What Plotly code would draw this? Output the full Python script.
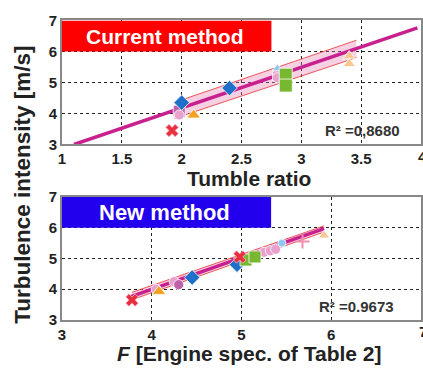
import plotly.graph_objects as go

# ---------------- data ----------------
# Top panel: Tumble ratio vs turbulence intensity (current method)
top_fit_x = [1.1, 3.97]
top_fit_y = [3.0, 6.76]
top_band_x = [1.94, 3.46]
top_band_hi = [4.36, 6.36]
top_band_lo = [3.84, 5.80]

top_x_cross = [1.92];        top_y_cross = [3.45]
top_x_purple = [1.98];       top_y_purple = [4.07]
top_x_pink = [1.98, 2.8, 2.8];  top_y_pink = [3.95, 5.27, 5.15]
top_x_blue = [2.0, 2.4];     top_y_blue = [4.35, 4.82]
top_x_orange = [2.1];        top_y_orange = [3.95]
top_x_lblue = [2.8];         top_y_lblue = [5.45]
top_x_green = [2.87, 2.87];  top_y_green = [5.25, 4.9]
top_x_lorange = [3.4, 3.4];  top_y_lorange = [5.85, 5.6]

# Bottom panel: F vs turbulence intensity (new method)
bot_fit_x = [3.76, 5.92]
bot_fit_y = [3.75, 5.97]
bot_band_x = [3.78, 5.92]
bot_band_hi = [3.9, 6.06]
bot_band_lo = [3.66, 5.86]

bot_x_cross = [3.78, 4.98];  bot_y_cross = [3.65, 5.05]
bot_x_pink = [4.05, 4.25, 5.25, 5.32, 5.38];  bot_y_pink = [4.0, 4.25, 5.2, 5.25, 5.3]
bot_x_purple = [4.3];        bot_y_purple = [4.15]
bot_x_orange = [4.08];       bot_y_orange = [3.93]
bot_x_blue = [4.45, 4.95];   bot_y_blue = [4.38, 4.8]
bot_x_green = [5.05, 5.15];  bot_y_green = [4.95, 5.05]
bot_x_lblue = [5.45];        bot_y_lblue = [5.5]
bot_x_plus = [5.68];         bot_y_plus = [5.55]
bot_x_lorange = [5.92];      bot_y_lorange = [5.75]

top_xticks = [1, 1.5, 2, 2.5, 3, 3.5, 4]
bot_xticks = [3, 4, 5, 6, 7]
yticks = [3, 4, 5, 6, 7]

# ---------------- figure ----------------
W, H = 423, 370
L = 62
fig = go.Figure()

LINE = "#c8208e"
BANDLINE = "rgba(230,60,60,0.85)"
BANDFILL = "rgba(230,120,175,0.35)"

def band(xa, ya, bx, hi, lo):
    fig.add_trace(go.Scatter(x=bx, y=lo, mode="lines", line=dict(color=BANDLINE, width=1),
                             xaxis=xa, yaxis=ya, showlegend=False, hoverinfo="skip"))
    fig.add_trace(go.Scatter(x=bx, y=hi, mode="lines", line=dict(color=BANDLINE, width=1),
                             fill="tonexty", fillcolor=BANDFILL,
                             xaxis=xa, yaxis=ya, showlegend=False, hoverinfo="skip"))

def fit(xa, ya, fx, fy):
    fig.add_trace(go.Scatter(x=fx, y=fy, mode="lines", line=dict(color=LINE, width=3.5),
                             xaxis=xa, yaxis=ya, showlegend=False, hoverinfo="skip"))

def pts(xa, ya, x, y, symbol, color, size, lc="rgba(255,255,255,0.8)", lw=1):
    fig.add_trace(go.Scatter(x=x, y=y, mode="markers", xaxis=xa, yaxis=ya, showlegend=False,
                             marker=dict(symbol=symbol, color=color, size=size,
                                         line=dict(color=lc, width=lw))))

# top panel
band("x", "y", top_band_x, top_band_hi, top_band_lo)
fit("x", "y", top_fit_x, top_fit_y)
pts("x", "y", top_x_cross, top_y_cross, "x", "#e8303a", 11, "rgba(240,170,200,0.9)", 1)
pts("x", "y", top_x_purple, top_y_purple, "square", "#c060a8", 12)
pts("x", "y", top_x_pink, top_y_pink, "circle", "#e8a0cc", 10)
pts("x", "y", top_x_blue, top_y_blue, "diamond", "#1f70c8", 12)
pts("x", "y", top_x_orange, top_y_orange, "triangle-up", "#f5a020", 12)
pts("x", "y", top_x_lblue, top_y_lblue, "triangle-up", "#90c8f0", 9)
pts("x", "y", top_x_green, top_y_green, "square", "#78b830", 13)
pts("x", "y", top_x_lorange, top_y_lorange, "triangle-up", "#f8c890", 11)

# bottom panel
band("x2", "y2", bot_band_x, bot_band_hi, bot_band_lo)
fit("x2", "y2", bot_fit_x, bot_fit_y)
pts("x2", "y2", bot_x_pink, bot_y_pink, "circle", "#e8a0cc", 10)
pts("x2", "y2", bot_x_purple, bot_y_purple, "circle", "#c060a8", 10)
pts("x2", "y2", bot_x_orange, bot_y_orange, "triangle-up", "#f5a020", 12)
pts("x2", "y2", bot_x_blue, bot_y_blue, "diamond", "#1f70c8", 12)
pts("x2", "y2", bot_x_green, bot_y_green, "square", "#78b830", 12)
pts("x2", "y2", bot_x_lblue, bot_y_lblue, "circle", "#90c8f0", 8)
pts("x2", "y2", bot_x_plus, bot_y_plus, "cross-thin", "#f090b0", 10, "#f090b0", 2)
pts("x2", "y2", bot_x_lorange, bot_y_lorange, "triangle-up", "#f8c890", 10)
pts("x2", "y2", bot_x_cross, bot_y_cross, "x", "#e8303a", 11, "rgba(240,170,200,0.9)", 1)

FONT = "Liberation Sans"
tickfont = dict(family=FONT, size=15, color="#222222")
axcommon = dict(showgrid=True, gridcolor="#222222", griddash="dot", gridwidth=1,
                showline=True, linecolor="#888888", linewidth=2, mirror=True,
                ticks="", zeroline=False, tickfont=tickfont)

def bold_labels(vals, hide_last=False):
    out = [f"<b>{v:g}</b>" for v in vals]
    if hide_last:
        out[-1] = ""
    return out

def ydom(top_px, bot_px):
    return [1 - bot_px / H, 1 - top_px / H]

def px_x(px):
    return (px - L) / (W - L)

def px_y(py):
    return 1 - py / H

def ann(text, x, y, size, color="#222222", angle=0, xref="paper", yref="paper"):
    return dict(text=text, xref=xref, yref=yref, x=x, y=y, showarrow=False,
                xanchor="center", yanchor="middle", textangle=angle,
                font=dict(family=FONT, size=size, color=color, weight="bold"))

fig.update_layout(
    width=W, height=H,
    margin=dict(l=L, r=0, t=0, b=0),
    paper_bgcolor="white", plot_bgcolor="white",
    xaxis=dict(range=[1, 4], tickvals=top_xticks, ticktext=bold_labels(top_xticks, True),
               domain=[0, 1], anchor="y", **axcommon),
    yaxis=dict(range=[3, 7], tickvals=yticks, ticktext=bold_labels(yticks),
               domain=ydom(12, 142), anchor="x", **axcommon),
    xaxis2=dict(range=[3, 7], tickvals=bot_xticks, ticktext=bold_labels(bot_xticks, True),
                domain=[0, 1], anchor="y2", **axcommon),
    yaxis2=dict(range=[3, 7], tickvals=yticks, ticktext=bold_labels(yticks),
                domain=ydom(197, 326), anchor="x2", **axcommon),
    shapes=[
        dict(type="rect", xref="x", yref="y", x0=1, x1=2.75, y0=6, y1=7,
             fillcolor="#ff0000", line=dict(width=0), layer="above"),
        dict(type="rect", xref="x2", yref="y2", x0=3, x1=5.33, y0=6, y1=7,
             fillcolor="#2200ee", line=dict(width=0), layer="above"),
    ],
    annotations=[
        ann("Current method", px_x(166), px_y(29), 21, "white"),
        ann("New method", px_x(165), px_y(213), 22, "white"),
        ann("R² =0,8680", px_x(364), px_y(127), 15, "#333333"),
        ann("R² =0.9673", px_x(358), px_y(312), 15, "#333333"),
        ann("Tumble ratio", px_x(250), px_y(178), 21),
        ann("<i>F</i> [Engine spec. of Table 2]", px_x(250), px_y(361), 21),
        ann("Turbulence intensity [m/s]", px_x(22), px_y(184), 22.5, angle=-90),
        ann("4", px_x(425), px_y(155), 15, "#222222"),
        ann("7", px_x(425), px_y(338), 15, "#222222"),
    ],
)

fig.write_html("out.html")
